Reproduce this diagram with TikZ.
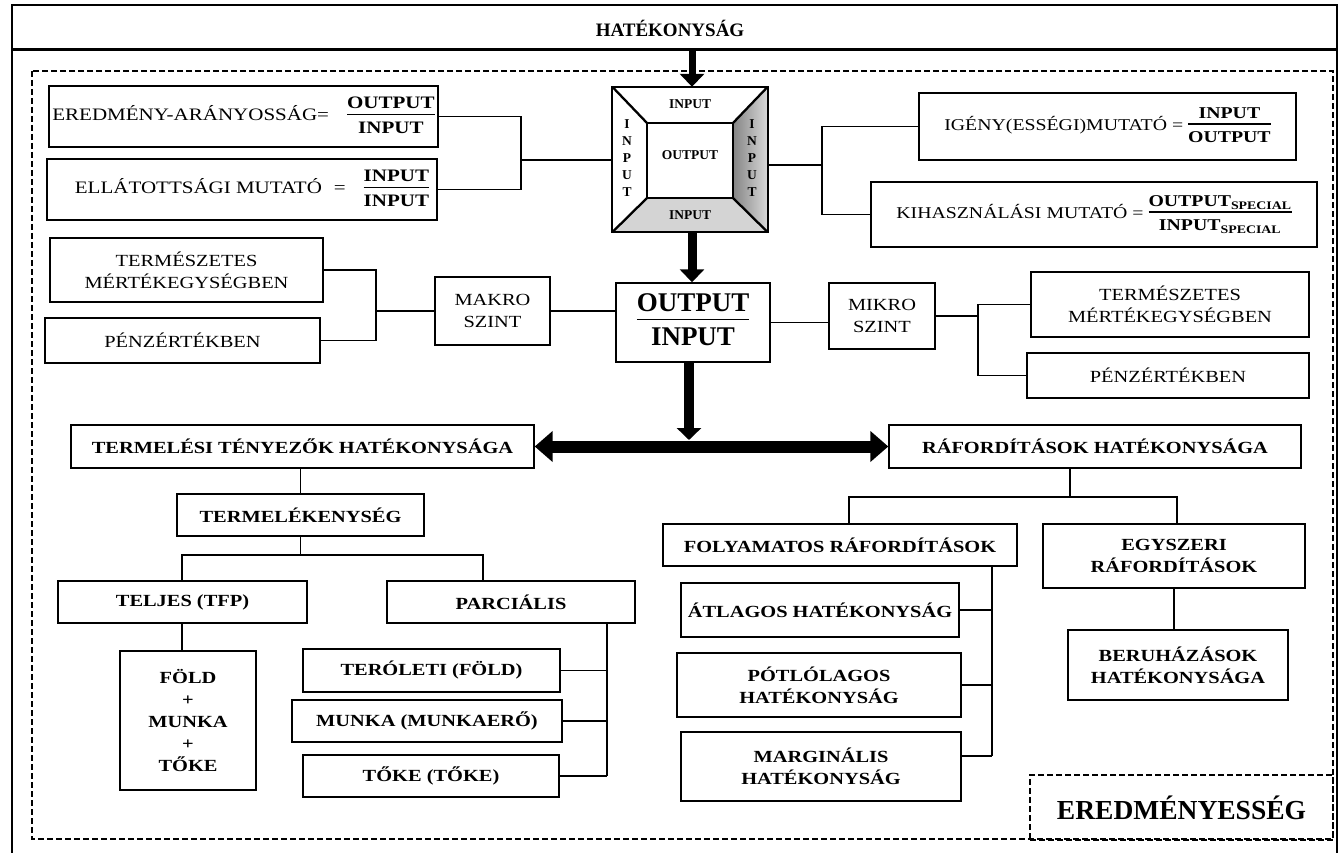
\documentclass[tikz,border=0pt]{standalone}
\usepackage{fontspec}
\setmainfont{Liberation Serif}[FakeStretch=1.2]
\newfontfamily\nf{Liberation Serif}
\usetikzlibrary{arrows.meta}
\setlength{\arrayrulewidth}{1.1pt}
\newcommand\fr[2]{\begin{tabular}{@{}c@{}}#1\\[-1pt]\hline\rule{0pt}{18pt}#2\end{tabular}}
\newcommand\bx[7][]{%
 \pgfmathsetmacro\bxw{#5-#3}\pgfmathsetmacro\bxh{#6-#4}%
 \pgfmathsetmacro\bxx{(#3+#5)/2}\pgfmathsetmacro\bxy{(#4+#6)/2}%
 \node[box,#1,minimum width=\bxw pt,minimum height=\bxh pt] (#2) at (\bxx,\bxy) {#7};}
\begin{document}
\begin{tikzpicture}[x=1pt,y=-1pt,
  box/.style={draw,line width=1.4pt,inner sep=0pt,align=center,font=\fontsize{17}{22}\selectfont},
  bb/.style={font=\bfseries\fontsize{17}{22}\selectfont},
  fl/.style={font=\fontsize{17.5}{22}\selectfont},
  fm/.style={font=\fontsize{16.5}{20}\selectfont},
  con/.style={line width=1.3pt},
  thick arrow/.style={line width=9pt,-{Triangle[width=24pt,length=13pt]}},
  dbl arrow/.style={line width=12pt,{Triangle[width=30pt,length=18pt]}-{Triangle[width=30pt,length=18pt]}},
  lab/.style={inner sep=0pt,font=\nf\bfseries\fontsize{13.5}{17}\selectfont,align=center}]
\useasboundingbox (0,0) rectangle (1339,853);
% outer frame and title
\draw[line width=2.5pt] (12,900) -- (12,5) -- (1337,5) -- (1337,900);
\draw[line width=3pt] (12,50) -- (1337,50);
\node[font=\nf\bfseries\fontsize{19}{22}\selectfont] (title) at (670,28) {HATÉKONYSÁG};
\draw[line width=2.2pt,dash pattern=on 6pt off 3pt] (32,71) rectangle (1333,839);
% central box
\node[minimum width=155pt,minimum height=145pt,inner sep=0pt] (cb) at (690,159.5) {};
\coordinate (ia) at (647,123); \coordinate (ib) at (733,123);
\coordinate (ic) at (733,198); \coordinate (id) at (647,198);
\shade[left color=black!48,right color=black!15] (cb.north east) -- (cb.south east) -- (ic) -- (ib) -- cycle;
\fill[black!17] (id) -- (ic) -- (cb.south east) -- (cb.south west) -- cycle;
\draw[line width=2.3pt] (cb.north west) rectangle (cb.south east);
\draw[line width=2.3pt] (ia) rectangle (ic);
\draw[line width=2.3pt] (cb.north west) -- (ia) (cb.north east) -- (ib) (cb.south east) -- (ic) (cb.south west) -- (id);
\node[lab] (ct) at (690,104) {INPUT};
\node[lab] (cc) at (690,155) {OUTPUT};
\node[lab] (cbt) at (690,215) {INPUT};
\node[lab] (cl) at (627,158) {I\\N\\P\\U\\T};
\node[lab] (cr) at (752,158) {I\\N\\P\\U\\T};
\coordinate (top) at (692,51);
\draw[thick arrow,line width=7pt] (top) -- (top |- cb.north);
% left formulas
\bx[fl]{e1}{49}{86}{438}{147}{EREDMÉNY-ARÁNYOSSÁG=\hspace{18pt}\bfseries\fr{OUTPUT}{INPUT}}
\bx[fl]{e2}{47}{159}{437}{220}{\hspace{20pt}ELLÁTOTTSÁGI MUTATÓ\hspace{12pt}=\hspace{18pt}\bfseries\fr{INPUT}{INPUT}}
\coordinate (jl) at (521,160);
\draw[con] (e1.east) -- (e1.east -| jl) -- (e2.east -| jl) -- (e2.east);
\draw[con] (jl) -- (jl -| cb.west);
% right formulas
\bx[fm]{r1}{919}{93}{1296}{160}{IGÉNY(ESSÉGI)MUTATÓ = \bfseries\fr{INPUT}{OUTPUT}}
\bx[fm]{r2}{871}{182}{1317}{247}{KIHASZNÁLÁSI MUTATÓ = \bfseries\fr{OUTPUT\textsubscript{SPECIAL}}{INPUT\textsubscript{SPECIAL}}}
\coordinate (jr) at (822,165);
\draw[con] (cb.east |- jr) -- (jr);
\draw[con] (r1.west) -- (r1.west -| jr) -- (r2.west -| jr) -- (r2.west);
% middle row
\bx{tl1}{50}{238}{323}{302}{TERMÉSZETES\\MÉRTÉKEGYSÉGBEN}
\bx{tl2}{45}{318}{320}{363}{PÉNZÉRTÉKBEN}
\bx{mak}{435}{277}{550}{345}{MAKRO\\SZINT}
\bx[font=\nf\bfseries\fontsize{27}{30}\selectfont]{ob}{616}{283}{770}{362}{\setlength{\arrayrulewidth}{1.6pt}\begin{tabular}{@{}c@{}}OUTPUT\\[-2pt]\hline\rule{0pt}{25pt}INPUT\end{tabular}}
\bx{mik}{829}{283}{935}{349}{MIKRO\\SZINT}
\bx{tr1}{1031}{272}{1309}{337}{TERMÉSZETES\\MÉRTÉKEGYSÉGBEN}
\bx{tr2}{1027}{353}{1309}{398}{PÉNZÉRTÉKBEN}
\coordinate (jm) at (376,311);
\draw[con] (tl1.east) -- (tl1.east -| jm) -- (tl2.east -| jm) -- (tl2.east);
\draw[con] (jm) -- (jm -| mak.west);
\draw[con] (mak.east) -- (mak.east -| ob.west);
\draw[con] (ob.east) -- (ob.east -| mik.west);
\coordinate (jk) at (978,316);
\draw[con] (mik.east) -- (jk);
\draw[con] (tr1.west) -- (tr1.west -| jk) -- (tr2.west -| jk) -- (tr2.west);
\draw[thick arrow] (cb.south -| top) -- (ob.north -| top);
% lower part
\bx[bb]{t0}{71}{425}{534}{468}{TERMELÉSI TÉNYEZŐK HATÉKONYSÁGA}
\bx[bb]{rf}{889}{425}{1301}{468}{RÁFORDÍTÁSOK HATÉKONYSÁGA}
\coordinate (jh) at (689,440);
\draw[line width=10pt,-{Triangle[width=24pt,length=12pt]}] (ob.south -| jh) -- (jh);
\draw[dbl arrow] (t0.east) -- (rf.west);
\bx[bb]{tk}{177}{494}{424}{536}{TERMELÉKENYSÉG}
\bx[bb]{tj}{58}{581}{307}{623}{TELJES (TFP)}
\bx[bb]{pa}{387}{581}{635}{623}{PARCIÁLIS}
\bx[bb]{fo}{120}{651}{256}{790}{FÖLD\\+\\MUNKA\\+\\TŐKE}
\bx[bb]{te}{303}{649}{560}{692}{TERÓLETI (FÖLD)}
\bx[bb]{mu}{292}{700}{562}{742}{MUNKA (MUNKAERŐ)}
\bx[bb]{to}{303}{755}{559}{797}{TŐKE (TŐKE)}
\draw[con] (t0.south -| tk.north) -- (tk.north);
\coordinate (jt) at (305,555); \coordinate (jt1) at (182,555); \coordinate (jt2) at (483,555);
\draw[con] (tk.south) -- (tk.south |- jt);
\draw[con] (jt1 |- tj.north) -- (jt1) -- (jt2) -- (jt2 |- pa.north);
\draw[con] (tj.south -| jt1) -- (jt1 |- fo.north);
\coordinate (jp) at (607,776);
\draw[con] (pa.south -| jp) -- (jp);
\draw[con] (te.east) -- (te.east -| jp);
\draw[con] (mu.east) -- (mu.east -| jp);
\draw[con] (to.east) -- (to.east -| jp);
\bx[bb]{fy}{663}{524}{1017}{566}{FOLYAMATOS RÁFORDÍTÁSOK}
\bx[bb]{eg}{1043}{524}{1305}{588}{EGYSZERI\\RÁFORDÍTÁSOK}
\bx[bb]{be}{1068}{630}{1288}{700}{BERUHÁZÁSOK\\HATÉKONYSÁGA}
\bx[bb]{at}{681}{583}{959}{637}{ÁTLAGOS HATÉKONYSÁG}
\bx[bb]{po}{677}{653}{961}{717}{PÓTLÓLAGOS\\HATÉKONYSÁG}
\bx[bb]{ma}{681}{732}{961}{801}{MARGINÁLIS\\HATÉKONYSÁG}
\coordinate (jq) at (1070,497); \coordinate (jq1) at (849,497); \coordinate (jq2) at (1177,497);
\draw[con] (rf.south -| jq) -- (jq);
\draw[con] (jq1 |- fy.north) -- (jq1) -- (jq2) -- (jq2 |- eg.north);
\draw[con] (eg.south) -- (eg.south |- be.north);
\coordinate (jf) at (992,756);
\draw[con] (fy.south -| jf) -- (jf);
\draw[con] (at.east) -- (at.east -| jf);
\draw[con] (po.east) -- (po.east -| jf);
\draw[con] (ma.east |- jf) -- (jf);
% eredmenyesseg
\node[draw,line width=2.2pt,dash pattern=on 6pt off 3pt,minimum width=303pt,minimum height=65pt,inner sep=0pt,font=\nf\bfseries\fontsize{27.5}{30}\selectfont] (er) at (1181.5,807.5) {EREDMÉNYESSÉG};
\end{tikzpicture}
\end{document}
